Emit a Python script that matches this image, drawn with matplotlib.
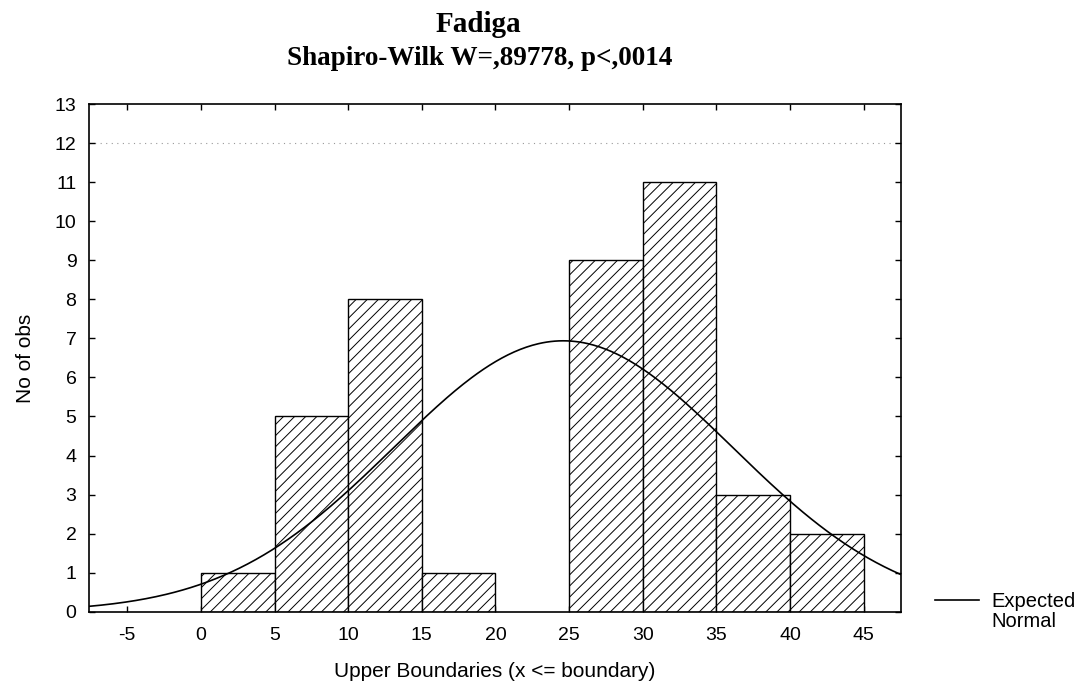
import numpy as np
import matplotlib.pyplot as plt

plt.rcParams['font.family'] = ['Liberation Sans', 'DejaVu Sans']
plt.rcParams['hatch.linewidth'] = 0.7
plt.rcParams['axes.unicode_minus'] = False

# histogram (upper boundaries, bin width 5)
bin_left = [0, 5, 10, 15, 20, 25, 30, 35, 40]
counts = [1, 5, 8, 1, 0, 9, 11, 3, 2]
bin_width = 5

# expected normal curve parameters
mean_val = 24.6
sd_val = 11.5
n_obs = sum(counts)

x_ticks = [-5, 0, 5, 10, 15, 20, 25, 30, 35, 40, 45]
y_ticks = list(range(0, 14))

fig = plt.figure(figsize=(10.85, 6.85), dpi=100)
ax = fig.add_axes([0.082, 0.107, 0.748, 0.741])

ax.axhline(12, color='#999999', lw=0.8, ls=(0, (1, 4)), zorder=0)

for x0, c in zip(bin_left, counts):
    if c > 0:
        ax.bar(x0, c, width=bin_width, align='edge', facecolor='white',
               edgecolor='black', hatch='///', linewidth=1.0, zorder=2)

xs = np.linspace(-7.6, 47.5, 400)
ys = n_obs * bin_width / (sd_val * np.sqrt(2 * np.pi)) * np.exp(-(xs - mean_val) ** 2 / (2 * sd_val ** 2))
ax.plot(xs, ys, '-', color='black', lw=1.2, zorder=3, label='Expected')
ax.plot([], [], ' ', label='Normal')  # second legend line, no handle

ax.set_xlim(-7.6, 47.5)
ax.set_ylim(0, 13)
ax.set_xticks(x_ticks)
ax.set_yticks(y_ticks)
ax.tick_params(direction='in', length=4, width=1, top=True, right=True,
               labelsize=14, pad=9)
ax.tick_params(axis='x', pad=11)
for s in ax.spines.values():
    s.set_linewidth(1.2)

ax.set_xlabel('Upper Boundaries (x <= boundary)', fontsize=15, labelpad=13)
ax.set_ylabel('No of obs', fontsize=15, labelpad=14)

fig.text(0.441, 0.964, 'Fadiga', ha='center', va='center', fontsize=21,
         fontweight='bold', family='Liberation Serif')
fig.text(0.442, 0.914, 'Shapiro-Wilk W=,89778, p<,0014', ha='center', va='center',
         fontsize=19.5, fontweight='bold', family='Liberation Serif')

ax.legend(loc='center left', bbox_to_anchor=(1.032, 0.0), frameon=False,
          fontsize=14.5, handlelength=2.2, handletextpad=0.6, labelspacing=0.05,
          borderaxespad=0.0)

fig.savefig('out.png', dpi=100)
